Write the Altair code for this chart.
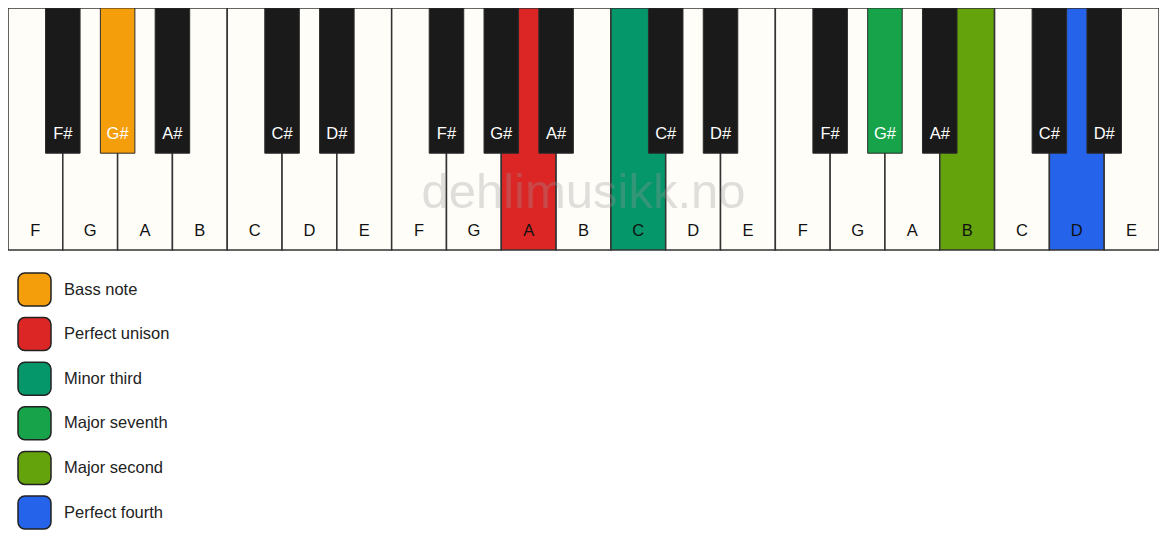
import altair as alt
import pandas as pd

# ---- data ----
WHITE_NOTES = ["F", "G", "A", "B", "C", "D", "E"]
OCTAVES = 3
BLACK_AFTER = ["F", "G", "A", "C", "D"]          # white notes followed by a black key
BLACK_NAMES = ["F#", "G#", "A#", "C#", "D#"]

HL_OCTAVE = [0, 1, 1, 2, 2, 2]
HL_NOTE = ["G#", "A", "C", "G#", "B", "D"]
HL_ROLE = ["Bass note", "Perfect unison", "Minor third",
           "Major seventh", "Major second", "Perfect fourth"]
ROLE_COLORS = ["#f59e0b", "#dc2626", "#059669", "#16a34a", "#65a30d", "#2563eb"]
WATERMARK = "dehlimusikk.no"

# ---- layout constants ----
W, H = 1151, 242
BLACK_HALF = 0.315       # half black-key width in white-key units
BLACK_LEN = 0.60
WHITE_LABEL_Y = 0.942
BLACK_LABEL_Y = 0.541
WM_Y = 0.826
FONT = "Liberation Sans"
FS = 16.5
WHITE_FILL = "#fffdf8"
BLACK_FILL = "#1a1a1a"

role_of = {(o, n): r for o, n, r in zip(HL_OCTAVE, HL_NOTE, HL_ROLE)}

wrows, brows = [], []
for o in range(OCTAVES):
    for j, n in enumerate(WHITE_NOTES):
        i = o * len(WHITE_NOTES) + j
        wrows.append(dict(note=n, x0=i, x1=i + 1, xc=i + 0.5, top=0.0, bottom=1.0,
                          ly=WHITE_LABEL_Y, role=role_of.get((o, n))))
        if n in BLACK_AFTER:
            b = BLACK_NAMES[BLACK_AFTER.index(n)]
            c = i + 1
            brows.append(dict(note=b, x0=c - BLACK_HALF, x1=c + BLACK_HALF, xc=c,
                              top=0.0, bottom=BLACK_LEN, ly=BLACK_LABEL_Y,
                              role=role_of.get((o, b))))
wdf = pd.DataFrame(wrows)
bdf = pd.DataFrame(brows)
n_white = len(wdf)
wm = pd.DataFrame({"text": [WATERMARK], "x": [n_white / 2], "y": [WM_Y]})

xs = alt.Scale(domain=[0, n_white], nice=False, zero=False)
ys = alt.Scale(domain=[0, 1], reverse=True, nice=False, zero=False)

ROUNDED = ("M-0.58,-1H0.58A0.42,0.42 0 0 1 1,-0.58V0.58A0.42,0.42 0 0 1 0.58,1"
           "H-0.58A0.42,0.42 0 0 1 -1,0.58V-0.58A0.42,0.42 0 0 1 -0.58,-1Z")

legend = alt.Legend(title=None, orient="none", legendX=9, legendY=264, padding=0,
                    direction="vertical", symbolType=ROUNDED, symbolSize=1089,
                    symbolStrokeColor="#222222", symbolStrokeWidth=1.5, symbolOpacity=1,
                    labelFont=FONT, labelFontSize=FS, labelColor="#222222",
                    labelOffset=12, rowPadding=4.6)
color_scale = alt.Scale(domain=HL_ROLE, range=ROLE_COLORS)


def fill_for(default):
    return alt.condition("datum.role", alt.Fill("role:N", scale=color_scale, legend=legend),
                         alt.value(default))


base_enc = dict(x=alt.X("x0:Q", scale=xs, axis=None), x2="x1:Q",
                y=alt.Y("top:Q", scale=ys, axis=None), y2="bottom:Q")

white = alt.Chart(wdf).mark_rect(stroke="#333333", strokeWidth=1.5).encode(
    fill=fill_for(WHITE_FILL), **base_enc)
black = alt.Chart(bdf).mark_rect(stroke="#2b2b2b", strokeWidth=1).encode(
    fill=fill_for(BLACK_FILL), **base_enc)

wlabels = alt.Chart(wdf).mark_text(font=FONT, fontSize=FS, baseline="alphabetic",
                                   align="center", color="#111111").encode(
    x=alt.X("xc:Q", scale=xs, axis=None), y=alt.Y("ly:Q", scale=ys, axis=None), text="note:N")
blabels = alt.Chart(bdf).mark_text(font=FONT, fontSize=FS, baseline="alphabetic",
                                   align="center", color="#ffffff").encode(
    x=alt.X("xc:Q", scale=xs, axis=None), y=alt.Y("ly:Q", scale=ys, axis=None), text="note:N")
water = alt.Chart(wm).mark_text(font=FONT, fontSize=49, baseline="alphabetic",
                                align="center", color="#999999", opacity=0.3).encode(
    x=alt.X("x:Q", scale=xs, axis=None), y=alt.Y("y:Q", scale=ys, axis=None), text="text:N")

chart = alt.layer(white, water, black, wlabels, blabels).properties(
    width=W, height=H,
    padding={"left": 0, "top": 0, "right": 0, "bottom": 300},
    autosize=alt.AutoSizeParams(type="none"),
    background="#ffffff",
).configure_view(stroke=None)

chart.save("out.html", embed_options={"renderer": "svg", "actions": False})
